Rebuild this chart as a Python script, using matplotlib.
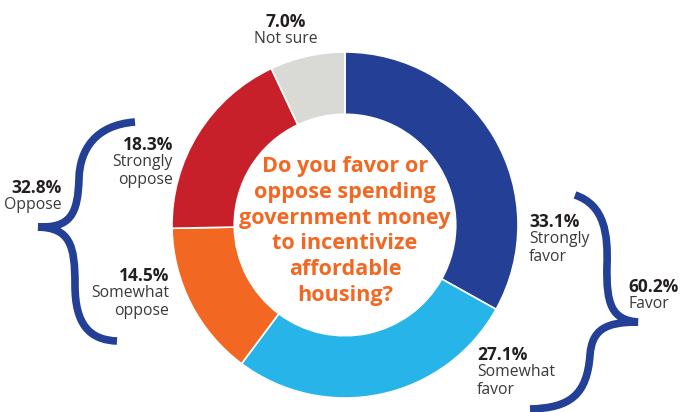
import matplotlib.pyplot as plt
from matplotlib.path import Path
from matplotlib.patches import PathPatch

W, H = 683, 412

labels = ["Strongly favor", "Somewhat favor", "Somewhat oppose", "Strongly oppose", "Not sure"]
values = [33.1, 27.1, 14.5, 18.3, 7.0]
colors = ["#233f96", "#27b4e8", "#f26722", "#c8202a", "#d9dad6"]

group_labels = ["Favor", "Oppose"]
group_values = [60.2, 32.8]

question = "Do you favor or\noppose spending\ngovernment money\nto incentivize\naffordable\nhousing?"

plt.rcParams["font.family"] = ["Open Sans", "DejaVu Sans"]

fig = plt.figure(figsize=(W / 100, H / 100), dpi=100)
ax = fig.add_axes([0, 0, 1, 1])
ax.set_xlim(0, W)
ax.set_ylim(0, H)
ax.set_aspect("equal")
ax.axis("off")


def py(y):
    # pixel row (from top) -> data y
    return H - y


cx, cy, r = 345, 225, 173
ax.pie(values, colors=colors, startangle=90, counterclock=False,
       center=(cx, py(cy)), radius=r, frame=True,
       wedgeprops=dict(width=r * 0.36, edgecolor="white", linewidth=1.2))
ax.set_xlim(0, W)
ax.set_ylim(0, H)
ax.axis("off")

ax.text(cx, py(231), question, ha="center", va="center", color="#f26722",
        fontsize=15.6, fontweight="bold", linespacing=1.3)

dark = "#231f20"
grey = "#3a3a3a"


def label(x, y, pct, name, ha):
    ax.text(x, py(y), f"{pct:.1f}%", ha=ha, va="center", fontsize=12.5,
            fontweight="bold", color=dark)
    ax.text(x, py(y + 9), name, ha=ha, va="top", fontsize=11.3,
            color=grey, linespacing=1.15)


label(529, 222, values[0], "Strongly\nfavor", "left")
label(477, 355, values[1], "Somewhat\nfavor", "left")
label(169, 276, values[2], "Somewhat\noppose", "right")
label(173, 145, values[3], "Strongly\noppose", "right")
label(628, 287, group_values[0], group_labels[0], "left")
label(62, 188, group_values[1], group_labels[1], "right")
ax.text(286, py(22), f"{values[4]:.1f}%", ha="center", va="center",
        fontsize=12.5, fontweight="bold", color=dark)
ax.text(286, py(31), labels[4], ha="center", va="top", fontsize=11.3, color=grey)


def brace(pts):
    verts = [(x, py(y)) for x, y in pts]
    codes = [Path.MOVETO] + [Path.CURVE4] * (len(verts) - 1)
    ax.add_patch(PathPatch(Path(verts, codes), fill=False,
                           edgecolor="#233f96", linewidth=5.5,
                           capstyle="butt"))


# left brace: top tip, mid tip, bottom tip
brace([(135, 122), (95, 125), (80, 150), (79, 178),
       (78, 215), (70, 228), (38, 227),
       (70, 228), (75, 245), (75, 285),
       (75, 325), (90, 340), (117, 341)])

# right brace
brace([(575, 195), (605, 205), (608, 235), (607, 265),
       (606, 305), (612, 320), (638, 322),
       (605, 322), (592, 330), (590, 355),
       (587, 395), (570, 408), (530, 409)])

fig.savefig("out.png", dpi=100)
